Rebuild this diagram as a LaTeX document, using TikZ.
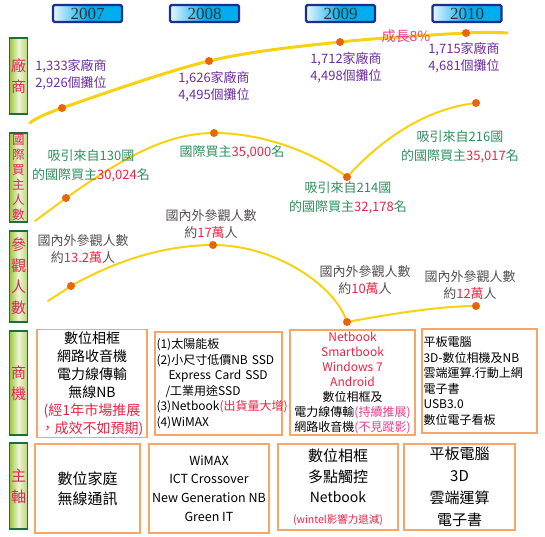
\documentclass[tikz,border=0pt]{standalone}
\usepackage{fontspec}
\setmainfont{Noto Sans CJK TC}
\newfontfamily\yearfont{Liberation Serif}
\usepackage{tikz}
\usetikzlibrary{positioning}
\definecolor{yearnavy}{HTML}{1B2F8F}
\definecolor{yearcyan}{HTML}{00AEEF}
\definecolor{yearpale}{HTML}{E8F6FD}
\definecolor{lblgreen}{HTML}{1E6E3A}
\definecolor{lblolive}{HTML}{9CC53C}
\definecolor{lblpale}{HTML}{EEF6D6}
\definecolor{lblred}{HTML}{E0245A}
\definecolor{curvegold}{HTML}{F8D210}
\definecolor{dotorange}{HTML}{E8650C}
\definecolor{firmpurple}{HTML}{6E2E9E}
\definecolor{buyergreen}{HTML}{2F8F5E}
\definecolor{numred}{HTML}{EA2545}
\definecolor{visitgray}{HTML}{555050}
\definecolor{growpink}{HTML}{E83E8C}
\definecolor{boxorange}{HTML}{F7A66B}

\begin{document}
\begin{tikzpicture}[x=1pt,y=-1pt,
  yearbox/.style={draw=yearnavy,line width=2.2pt,rounded corners=1.5pt,left color=yearpale,right color=yearcyan,middle color=yearcyan,
    minimum width=69pt,minimum height=17pt,inner sep=0pt,text=black!80,font=\yearfont\fontsize{17}{17}\selectfont},
  sidebox/.style={draw=lblgreen,line width=1.8pt,left color=lblolive,right color=lblolive!70,middle color=lblpale,
    minimum width=18pt,inner sep=0pt,text=lblred,align=center},
  trend/.style={curvegold,line width=2pt,line cap=round},
  dot/.style={circle,fill=dotorange,minimum size=8pt,inner sep=0pt},
  firm/.style={text=firmpurple,align=center,font=\fontsize{13}{17}\selectfont},
  buyer/.style={text=buyergreen,align=center,font=\fontsize{13}{19}\selectfont},
  visit/.style={text=visitgray,align=center,font=\fontsize{13}{17}\selectfont},
  infobox/.style={draw=boxorange,line width=1.1pt,fill=white,inner sep=1.5pt},
]
  \useasboundingbox (0,0) rectangle (545,536);

  % years
  \node[yearbox] (y07) at (87.5,13.5) {2007};
  \node[yearbox] (y08) at (204.5,13.5) {2008};
  \node[yearbox] (y09) at (340.5,13.5) {2009};
  \node[yearbox] (y10) at (467,13.5) {2010};

  % row labels
  \node[sidebox,minimum height=76pt,font=\fontsize{15}{21}\selectfont] (lblfirm) at (18.5,76) {廠\\商};
  \node[sidebox,minimum height=89pt,font=\fontsize{12.5}{15}\selectfont] (lblbuyer) at (18.5,177.5) {國\\際\\買\\主\\人\\數};
  \node[sidebox,minimum height=91pt,font=\fontsize{15}{21}\selectfont] (lblvisit) at (18.5,276.5) {參\\觀\\人\\數};
  \node[sidebox,minimum height=104pt,font=\fontsize{15}{21}\selectfont] (lblbiz) at (18.5,383) {商\\機};
  \node[sidebox,minimum height=86pt,font=\fontsize{15}{21}\selectfont] (lblcore) at (18.5,486) {主\\軸};

  % trend lines
  \coordinate (f0) at (30,123);  \coordinate (f1) at (62,108);
  \coordinate (f2) at (209,61);  \coordinate (f3) at (340,42);
  \coordinate (f4) at (466,33);  \coordinate (f5) at (507,33);
  \draw[trend,line width=3pt] plot[smooth,tension=0.55] coordinates {(f0) (f1) (f2) (f3) (f4) (f5)};

  \coordinate (b0) at (35,221);  \coordinate (b1) at (66,198);
  \coordinate (b2) at (214,133); \coordinate (b3) at (347,177);
  \coordinate (b4) at (476,103);
  \draw[trend] (b0) -- (b1) .. controls (120,160) and (165,133) .. (b2)
    .. controls (260,133) and (310,150) .. (b3)
    .. controls (385,135) and (430,108) .. (b4);

  \coordinate (v0) at (48,301);  \coordinate (v1) at (71,286);
  \coordinate (v2) at (213,245); \coordinate (v3) at (347,322);
  \coordinate (v4) at (476,306);
  \draw[trend] (v0) -- (v1) .. controls (120,258) and (170,245) .. (v2)
    .. controls (275,245) and (335,285) .. (v3)
    .. controls (390,314) and (440,306) .. (v4);

  \foreach \p in {f1,f2,f3,f4,b1,b2,b3,b4,v1,v2,v3,v4}
    \node[dot] (d\p) at (\p) {};

  % exhibitors
  \node[firm] (firm07) at (71,75) {1,333家廠商\\2,926個攤位};
  \node[firm] (firm08) at (214,87) {1,626家廠商\\4,495個攤位};
  \node[firm] (firm09) at (346,68) {1,712家廠商\\4,498個攤位};
  \node[firm] (firm10) at (464,58) {1,715家廠商\\4,681個攤位};
  \node[text=growpink,font=\fontsize{14}{14}\selectfont] (grow) at (406,36) {成長8\%};

  % buyers
  \node[buyer] (buy07) at (91,166) {吸引來自130國\\的國際買主\textcolor{numred}{30,024}名};
  \node[buyer] (buy08) at (232,152) {國際買主\textcolor{numred}{35,000}名};
  \node[buyer] (buy09) at (348,198) {吸引來自214國\\的國際買主\textcolor{numred}{32,178}名};
  \node[buyer] (buy10) at (460,147) {吸引來自216國\\的國際買主\textcolor{numred}{35,017}名};

  % visitors
  \node[visit] (vis07) at (83,249) {國內外參觀人數\\約\textcolor{numred}{13.2萬}人};
  \node[visit] (vis08) at (211,224) {國內外參觀人數\\約\textcolor{numred}{17萬}人};
  \node[visit] (vis09) at (365,280) {國內外參觀人數\\約\textcolor{numred}{10萬}人};
  \node[visit] (vis10) at (470,285) {國內外參觀人數\\約\textcolor{numred}{12萬}人};

  % business opportunities
  \node[infobox,minimum width=110pt,minimum height=103pt,align=center,font=\fontsize{14}{18}\selectfont] (biz07) at (92,383.5)
    {數位相框\\網路收音機\\電力線傳輸\\無線NB\\\textcolor{numred}{(經1年市場推展}\\\textcolor{numred}{，成效不如預期)}};
  \node[infobox,minimum height=103pt,text width=124pt,align=left,font=\fontsize{12}{15.5}\selectfont] (biz08) at (218.5,383.5)
    {(1)太陽能板\\(2)小尺寸低價NB~SSD\\\hspace*{12pt}Express Card SSD\\\hspace*{9pt}/工業用途SSD\\(3)Netbook\textcolor{numred}{(出貨量大增)}\\(4)WiMAX};
  \node[infobox,minimum width=125pt,minimum height=105pt,align=center,font=\fontsize{12}{15}\selectfont] (biz09) at (352.5,382.5)
    {\textcolor{numred}{Netbook}\\\textcolor{numred}{Smartbook}\\\textcolor{numred}{Windows 7}\\\textcolor{numred}{Android}\\數位相框及\\電力線傳輸\textcolor{growpink}{(持續推展)}\\網路收音機\textcolor{growpink}{(不見蹤影)}};
  \node[infobox,minimum height=104pt,text width=112pt,align=left,font=\fontsize{12}{15.5}\selectfont] (biz10) at (479.5,381)
    {平板電腦\\3D-數位相機及NB\\雲端運算.行動上網\\電子書\\USB3.0\\數位電子看板};

  % main themes
  \node[infobox,minimum width=105pt,minimum height=89pt,align=center,font=\fontsize{15}{20}\selectfont] (core07) at (87.5,488.5)
    {數位家庭\\無線通訊};
  \node[infobox,minimum width=120pt,minimum height=89pt,align=center,font=\fontsize{12.5}{18.7}\selectfont] (core08) at (209,488.5)
    {WiMAX\\ICT Crossover\\New Generation NB\\Green IT};
  \node[infobox,minimum width=120pt,minimum height=86pt,align=center,font=\fontsize{15}{20.5}\selectfont] (core09) at (338,487)
    {數位相框\\多點觸控\\{\fontsize{14}{20.5}\selectfont Netbook}\\{\fontsize{10.5}{14}\selectfont\textcolor{numred}{(wintel影響力退減)}}};
  \node[infobox,minimum width=111pt,minimum height=86pt,align=center,font=\fontsize{15}{22}\selectfont] (core10) at (459.5,487)
    {平板電腦\\3D\\雲端運算\\電子書};
\end{tikzpicture}
\end{document}
